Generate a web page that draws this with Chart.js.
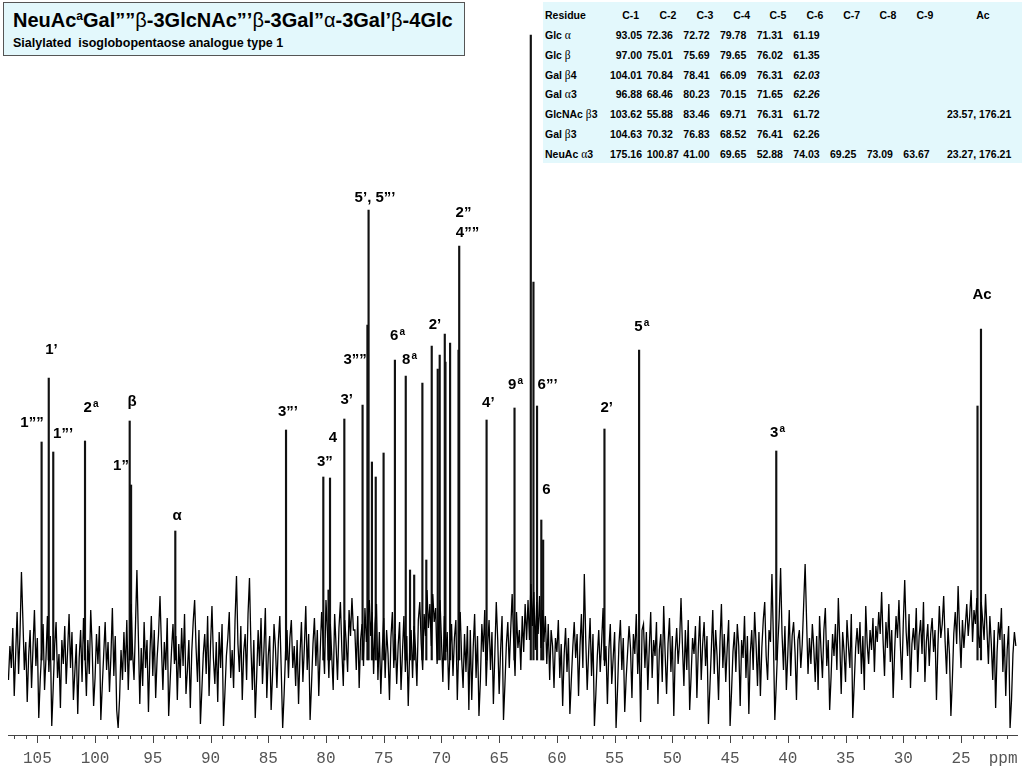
<!DOCTYPE html>
<html>
<head>
<meta charset="utf-8">
<script src="https://cdn.jsdelivr.net/npm/chart.js"></script>
<style>
  body { margin: 0; background: #fff; }
  #wrap { position: relative; width: 1024px; height: 768px; overflow: hidden; }
  #titlebox { position: absolute; left: 3px; top: 2px; width: 460px; height: 52px; border: 1px solid #555;
              background: #e3f8fc; font-family: 'Liberation Sans', Arial, sans-serif; font-weight: bold; color: #000; }
  #title { position: absolute; left: 9px; top: 7px; font-size: 20px; line-height: 20px; white-space: nowrap; }
  #title .sup { font-size: 12px; position: relative; top: -7px; }
  #title .gr { font-weight: normal; }
  #subtitle { position: absolute; left: 9px; top: 34px; font-size: 12.5px; line-height: 13px; white-space: pre; }
  #tbl { position: absolute; left: 543px; top: 2px; width: 479px; height: 161px; background: #e3f8fc;
         font: bold 10.5px 'Liberation Sans', Arial, sans-serif; color: #000; }
  #tbl span.c { position: absolute; line-height: 12px; white-space: nowrap; }
  #tbl .gr { font-family: 'Liberation Serif', serif; font-weight: normal; font-size: 11.5px; }
  #tbl .it { font-style: italic; }
</style>
</head>
<body>
<div id="wrap">
  <canvas id="spectrum" width="1024" height="768"></canvas>
  <div id="titlebox">
    <div id="title">NeuAc<span class="sup">a</span>Gal””<span class="gr">β</span>-3GlcNAc”’<span class="gr">β</span>-3Gal”<span class="gr">α</span>-3Gal’<span class="gr">β</span>-4Glc</div>
    <div id="subtitle">Sialylated  isoglobopentaose analogue type 1</div>
  </div>
  <div id="tbl"></div>
</div>
<script>
// 13C spectrum: baseline noise sampled every 0.125 ppm from 107.5 ppm downwards
const noiseStart = 107.5;
const noiseStep = 0.125;
const noise = [
  -20, 14, -8, 32, -36, 6, 48, -14, 26, 88,  40, -10, 18, -42, 4, 30, -28, 12, 50, -6,
  22, -58, -20, 8, 36, -30, 2, 44, -12, 24,  -66, -28, 14, 38, -18, 6, -48, 20, -4, 34,
  -24, 10, 46, -8, 28, -40, -12, 16, -54, 2,  30, -22, 42, 8, -36, 20, -14, 50, 12, -46,
  -18, 26, -4, 34, -60, -26, 6, 38, -10, 18,  -32, 4, 52, -16, 24, -50, -68, -38, 10, -20,
  28, -12, 40, -30, 16, 56, 8, -20, 34, 90,  24, -44, 12, -26, 38, -8, 20, -52, 6, 44,
  -16, 30, -38, 2, 26, 64, 14, -30, 18, -10,  42, -56, -22, 10, 36, -4, 24, -40, 16, -18,
  32, -6, 46, -34, -10, 20, -48, 8, 38, 60,  12, -22, 30, -64, -30, 6, 26, -14, 44, -36,
  14, 54, 2, -24, 18, -42, 28, -8, 36, -66,  -32, 4, 22, 48, -18, 10, -28, 40, 84, 16,
  -12, 34, -40, 8, 26, -20, 46, 82, 14, -30,  20, -58, -16, 30, -6, 42, -24, 10, 52, -38,
  4, 24, -50, -14, 36, 12, -28, 18, 44, -10,  -68, -34, 8, 30, -18, 22, 40, -8, 14, -26,
  20, -44, 6, 38, -22, 12, 54, -10, 26, -60,  -24, 16, 42, -6, 30, -36, 8, 48, 20, -14,
  60, 28, -18, 36, 4, -30, 46, 14, -20, 32,  58, 10, -26, 40, 18, -12, 50, 24, 62, 30,
  30, -10, 44, -28, 20, 36, -6, 52, 18, 40,  60, 24, 48, -14, 36, 56, -20, 28, -34, 10,
  42, -18, 30, 6, -40, 22, 48, -8, 26, -24,  14, 38, -30, 8, 44, -12, 24, -46, 10, 30,
  -18, 34, 12, -26, 40, 58, 16, -10, 46, 24,  70, 32, 56, 14, 66, 38, 52, -4, 30, 60,
  20, -22, 44, 8, 28, -30, 10, 36, -16, 22,  40, -40, 14, 48, 2, -28, 26, -12, 34, -50,
  30, -40, 12, 46, -18, 24, -56, -20, 36, 8,  50, -26, 14, 40, -10, 28, -44, 6, 58, 20,
  -34, 10, 44, -60, -24, 16, 38, -8, 30, 66,  22, -16, 48, 12, 30, -10, 44, 8, 56, 20,
  60, 20, 76, 34, 68, 10, 58, 26, 64, 12,  50, 18, 44, -4, 36, -20, 30, 14, -28, 22,
  8, 40, -18, 16, -46, 4, 32, -12, 22, -54,  -20, 12, 38, 2, 26, -36, 14, 46, -8, 86,
  20, -30, 8, 42, -16, 26, -66, -34, 4, 30,  -12, 18, 52, -6, 14, -44, 10, 36, -24, 2,
  28, -68, -30, 16, 40, -10, 22, -52, -18, 8,  34, 12, -38, 26, 6, 46, -14, 20, -62, 30,
  36, -8, 28, -30, 12, 48, -18, 20, 4, 38,  -44, 10, 26, -22, 54, 6, -34, 16, 42, -12,
  24, -56, 8, 32, -4, 18, 62, 14, -26, 30,  -10, 40, -50, -16, 22, 6, 34, -38, 12, 44,
  -20, 16, 38, -6, 24, -64, -28, 10, 50, -14,  30, 4, -40, 18, 56, -8, 26, -22, 12, 40,
  -66, -32, 8, 28, -12, 36, 14, -46, 20, 2,  44, -18, 24, -54, 6, 30, -10, 48, 16, -26,
  28, -36, 12, 40, 58, 4, -20, 30, 18, 86,  22, -60, -24, 14, 42, 92, 26, -10, 34, -30,
  6, 50, -16, 24, 38, 8, -40, 20, 30, -8,  16, 56, 96, 40, -14, 22, -4, 36, 12, -22,
  24, -30, 44, 10, -18, 30, 52, -6, 20, -50,  -16, 26, 4, 36, -10, 62, 18, -34, 28, 8,
  -22, 40, 14, -8, 46, -58, -24, 12, 32, 6,  38, -14, 24, -30, 54, 16, -4, 30, 10, 42,
  -12, 34, 18, 48, 26, 68, 20, -16, 38, 12,  56, -2, 30, -38, 8, 44, 22, 60, 14, -20,
  36, 80, 28, 4, 46, -28, 16, 32, 10, 52,  -12, 24, 40, 6, 58, -22, 18, 36, -6, 26,
  42, 8, 30, -40, 14, 54, 22, 36, 64, 18,  -14, 32, 6, -56, -20, 26, 48, 16, 74, 30,
  -8, 40, 12, 34, 56, 24, 44, 70, 18, 50,  36, 62, 26, 12, 58, 40, 20, 66, 30, -4,
  44, 16, -20, 30, -48, 8, 38, 20, 52, -12, 26, -36, 10, 34, -68, -40, 6, 28, 14
];

// resolved signals: chemical shift (ppm) and peak height
const peakPpm = [104.63, 104.01, 103.62, 100.87, 97.00, 96.88, 93.05, 83.46, 80.23, 79.78,
                 79.65, 78.41, 76.83, 76.41, 76.31, 76.02, 75.69, 75.01, 74.03, 73.09,
                 72.72, 72.36, 71.65, 71.31, 70.84, 70.32, 70.15, 69.71, 69.65, 69.25,
                 68.52, 68.46, 66.09, 63.67, 62.26, 62.03, 61.72, 61.35, 61.19, 55.88,
                 52.88, 41.00, 23.57, 23.27];
const peakHeight = [218, 282, 208, 219, 239, 175, 129, 230, 183, 70,
                    182, 241, 255, 335, 450, 198, 183, 207, 300, 284,
                    90, 85, 277, 100, 314, 291, 305, 326, 298, 317,
                    310, 414, 240, 252, 625, 378, 254, 140, 120, 231,
                    310, 209, 254, 331];

// peak assignments
const labelText = ['1’', '1””', '1”’', '2', 'β', '1”', 'α', '3”’', '4', '3”', '3’', '3””', '5’, 5”’',
                   '6', '8', '2’', '2”', '4””', '4’', '9', '6”’', '6', '2’', '5', '3', 'Ac'];
const labelSup = ['', '', '', 'a', '', '', '', '', '', '', '', '', '',
                  'a', 'a', '', '', '', '', 'a', '', '', '', 'a', 'a', ''];
const labelPpm = [103.77, 105.46, 102.77, 100.35, 96.80, 97.75, 92.90, 83.29, 79.39, 80.09, 78.20, 77.48, 75.75,
                  73.80, 72.76, 70.56, 68.09, 67.74, 65.94, 63.58, 60.81, 60.90, 55.68, 52.65, 40.89, 23.18];
const labelLevel = [310, 237, 226, 252, 258, 194, 144, 248, 222, 198, 260, 300, 462,
                    324, 300, 335, 447, 427, 257, 275, 275, 170, 252, 333, 227, 365];

// axis
const tickLabels = [105, 100, 95, 90, 85, 80, 75, 70, 65, 60, 55, 50, 45, 40, 35, 30, 25];

// assignment table
const residueNames = ['Glc', 'Glc', 'Gal', 'Gal', 'GlcNAc', 'Gal', 'NeuAc'];
const residueGreek = ['α', 'β', 'β', 'α', 'β', 'β', 'α'];
const residueLink = ['', '', '4', '3', '3', '3', '3'];
const colHeads = ['C-1', 'C-2', 'C-3', 'C-4', 'C-5', 'C-6', 'C-7', 'C-8', 'C-9', 'Ac'];
const shiftC1 = ['93.05', '97.00', '104.01', '96.88', '103.62', '104.63', '175.16'];
const shiftC2 = ['72.36', '75.01', '70.84', '68.46', '55.88', '70.32', '100.87'];
const shiftC3 = ['72.72', '75.69', '78.41', '80.23', '83.46', '76.83', '41.00'];
const shiftC4 = ['79.78', '79.65', '66.09', '70.15', '69.71', '68.52', '69.65'];
const shiftC5 = ['71.31', '76.02', '76.31', '71.65', '76.31', '76.41', '52.88'];
const shiftC6 = ['61.19', '61.35', '62.03', '62.26', '61.72', '62.26', '74.03'];
const shiftC7 = ['', '', '', '', '', '', '69.25'];
const shiftC8 = ['', '', '', '', '', '', '73.09'];
const shiftC9 = ['', '', '', '', '', '', '63.67'];
const shiftAc = ['', '', '', '', '23.57, 176.21', '', '23.27, 176.21'];

// ---- table (HTML text) ----
const tbl = document.getElementById('tbl');
const tblLeft = 543, tblTop = 2;
function cell(html, x, y, align) {
  const s = document.createElement('span');
  s.className = 'c';
  s.innerHTML = html;
  s.style.left = (x - tblLeft) + 'px';
  s.style.top = (y - tblTop - 6) + 'px';
  if (align === 'center') s.style.transform = 'translateX(-50%)';
  if (align === 'right') s.style.transform = 'translateX(-100%)';
  tbl.appendChild(s);
}
const headX = [630.7, 668, 705, 741.7, 778, 815, 851.7, 888, 925, 983];
// C-1 is right aligned, the other columns start at a fixed tab
const colX = [642, 646.7, 683.3, 720, 756.7, 793.3, 830, 866.7, 903.3, 947];
const rowY = i => 15 + i * 19.85;
cell('Residue', 545, rowY(0), 'left');
colHeads.forEach((h, j) => cell(h, headX[j], rowY(0), 'center'));
const cols = [shiftC1, shiftC2, shiftC3, shiftC4, shiftC5, shiftC6, shiftC7, shiftC8, shiftC9, shiftAc];
residueNames.forEach((name, i) => {
  cell(name + ' <span class="gr">' + residueGreek[i] + '</span>' + residueLink[i], 545, rowY(i + 1), 'left');
  cols.forEach((col, j) => {
    if (!col[i]) return;
    const italic = j === 5 && (i === 2 || i === 3);
    cell(italic ? '<span class="it">' + col[i] + '</span>' : col[i], colX[j], rowY(i + 1), j === 0 ? 'right' : 'left');
  });
});

// ---- spectrum ----
const noisePoints = noise.map((v, i) => ({ x: +(noiseStart - i * noiseStep).toFixed(3), y: v }));
const peakPoints = peakPpm.map((p, i) => ({ x: p, y: peakHeight[i] }));

const annot = {
  id: 'annot',
  afterDraw(chart) {
    const { ctx, chartArea } = chart;
    const x = chart.scales.x, y = chart.scales.y;
    ctx.save();
    // major / minor tick marks
    ctx.strokeStyle = '#444';
    ctx.lineWidth = 1;
    x.ticks.forEach(t => {
      const px = Math.round(x.getPixelForValue(t.value)) + 0.5;
      const len = t.value % 5 === 0 ? 8 : 4;
      ctx.beginPath();
      ctx.moveTo(px, chartArea.bottom);
      ctx.lineTo(px, chartArea.bottom + len);
      ctx.stroke();
    });
    // tick labels and unit
    ctx.fillStyle = '#555';
    ctx.font = "16px 'Liberation Mono', monospace";
    ctx.textBaseline = 'alphabetic';
    ctx.textAlign = 'center';
    tickLabels.forEach(v => ctx.fillText(String(v), x.getPixelForValue(v), chartArea.bottom + 28));
    ctx.textAlign = 'left';
    ctx.fillText('ppm', x.getPixelForValue(22.6), chartArea.bottom + 28);
    // peak labels
    ctx.fillStyle = '#000';
    ctx.textBaseline = 'middle';
    labelText.forEach((txt, i) => {
      const px = x.getPixelForValue(labelPpm[i]);
      const py = y.getPixelForValue(labelLevel[i]);
      ctx.font = "bold 15px 'Liberation Sans', Arial, sans-serif";
      const w1 = ctx.measureText(txt).width;
      let w2 = 0;
      if (labelSup[i]) {
        ctx.font = "bold 10px 'Liberation Sans', Arial, sans-serif";
        w2 = ctx.measureText(labelSup[i]).width + 1;
      }
      const left = px - (w1 + w2) / 2;
      ctx.font = "bold 15px 'Liberation Sans', Arial, sans-serif";
      ctx.fillText(txt, left, py);
      if (labelSup[i]) {
        ctx.font = "bold 10px 'Liberation Sans', Arial, sans-serif";
        ctx.fillText(labelSup[i], left + w1 + 1, py - 4);
      }
    });
    ctx.restore();
  }
};

new Chart(document.getElementById('spectrum'), {
  type: 'bar',
  data: {
    datasets: [
      { type: 'line', data: noisePoints, borderColor: '#000', borderWidth: 1.3, pointRadius: 0, tension: 0 },
      { type: 'bar', data: peakPoints, backgroundColor: '#111', barThickness: 1.5, grouped: false }
    ]
  },
  options: {
    responsive: false,
    animation: false,
    layout: { padding: { left: 8, right: 7, top: 30, bottom: 25 } },
    plugins: { legend: { display: false }, tooltip: { enabled: false } },
    scales: {
      x: {
        type: 'linear', reverse: true, min: 20.15, max: 107.54, offset: false,
        grid: { drawOnChartArea: false, drawTicks: true, tickLength: 8, color: 'transparent', offset: false },
        border: { display: true, color: '#444', width: 1 },
        ticks: { display: false, stepSize: 1, includeBounds: false, autoSkip: false }
      },
      y: { display: false, min: -75, max: 630 }
    }
  },
  plugins: [annot]
});
</script>
</body>
</html>
